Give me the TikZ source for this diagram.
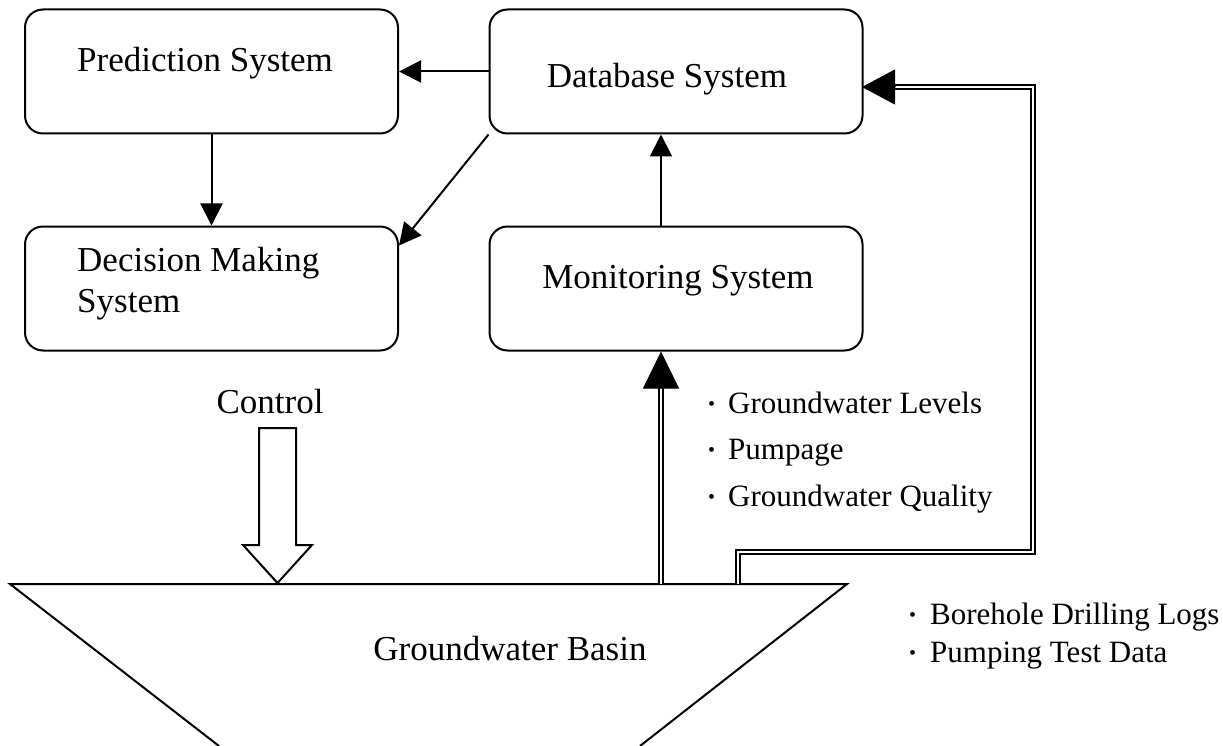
\documentclass[tikz,border=0pt]{standalone}
\usepackage{fontspec}
\setmainfont{Liberation Serif}
\usetikzlibrary{arrows.meta,calc}
\newcommand{\bdot}{\raisebox{2.5pt}{\fontsize{20}{20}\selectfont •}}
\begin{document}
\begin{tikzpicture}[x=1pt,y=-1pt,
  box/.style={draw,line width=2pt,rounded corners=18pt,minimum width=373pt,minimum height=124pt,inner sep=0pt},
  big/.style={font=\fontsize{35}{41}\selectfont,inner sep=0pt},
  small/.style={font=\fontsize{31}{37}\selectfont,inner sep=0pt,anchor=base west},
  arr/.style={line width=2pt,-{Triangle[length=22pt,width=22pt]}},
  dbl/.style={double,line width=1.5pt,double distance=2.5pt,line join=miter},
  bigtip/.style={line width=1pt},
  outline/.style={line width=2pt,line join=miter}]
\useasboundingbox (0,0) rectangle (1223,746);
% boxes
\node[box] (pred) at (211.5,71.5) {};
\node[box] (dec) at (211.5,288.5) {};
\node[box] (db) at (676,71.5) {};
\node[box] (mon) at (676,288.5) {};
% box texts
\node[big,anchor=base west] (predt) at (77,72) {Prediction System};
\node[big,anchor=base west] (dect1) at (77,271) {Decision Making};
\node[big,anchor=base west] (dect2) at (77,312) {System};
\node[big,anchor=base] (dbt) at (667,88) {Database System};
\node[big,anchor=base] (mont) at (678,288) {Monitoring System};
\node[big,anchor=base] (ctl) at (270,413) {Control};
\node[big,anchor=base] (basint) at (510,660) {Groundwater Basin};
% bullet lists
\node[small] (g1) at (708,413) {\makebox[20pt][l]{\bdot}Groundwater Levels};
\node[small] (g2) at (708,459) {\makebox[20pt][l]{\bdot}Pumpage};
\node[small] (g3) at (708,506) {\makebox[20pt][l]{\bdot}Groundwater Quality};
\node[small] (b1) at (909,624) {\makebox[21pt][l]{\bdot}Borehole Drilling Logs};
\node[small] (b2) at (909,662) {\makebox[21pt][l]{\bdot}Pumping Test Data};
% basin
\coordinate (bl) at (10,584);
\coordinate (br) at (847,584);
\coordinate (bbl) at (219,746);
\coordinate (bbr) at (640,746);
\draw[outline] (bbl) -- (bl) -- (br) -- (bbr);
% control block arrow
\coordinate (ctip) at (277.5,583);
\draw[outline] (259,428) -- (296,428) -- (296,545) -- (312,545) -- (ctip) -- (243,545) -- (259,545) -- cycle;
% single arrows
\draw[arr] (db.west) -- (pred.east);
\draw[arr] (pred.south) -- (dec.north);
\draw[arr] (db.south west) -- ($(dec.north east)+(0,20)$);
\coordinate (m0) at (661,584);
\draw[arr] (mon.north -| m0) -- (db.south -| m0);
% double arrow basin -> monitoring
\draw[dbl] (m0) -- ($(m0 |- mon.south)+(0,35)$);
\draw[bigtip,-{Triangle[length=37pt,width=36pt]}] ($(m0 |- mon.south)+(0,37)$) -- (m0 |- mon.south);
% double arrow basin -> database
\coordinate (r0) at (738,584);
\coordinate (dbin) at (862,87);
\draw[dbl] (r0) -- (738,552) -- (1033,552) -- (1033,87) -- ($(dbin)+(31,0)$);
\draw[bigtip,-{Triangle[length=33pt,width=35pt]}] ($(dbin)+(33,0)$) -- (dbin);
\end{tikzpicture}
\end{document}
